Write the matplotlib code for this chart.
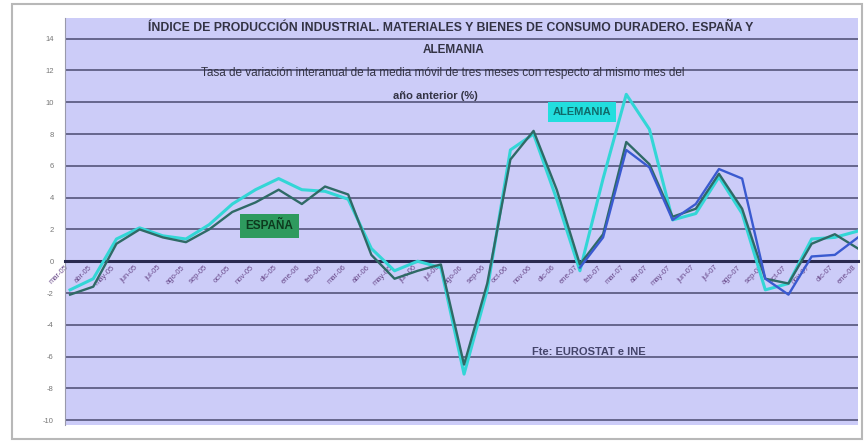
import matplotlib.pyplot as plt
from matplotlib.patches import Rectangle
import numpy as np

plt.rcParams["font.family"] = ["Liberation Sans", "DejaVu Sans"]

# categorias (meses) y valores
meses = ["ene", "feb", "mar", "abr", "may", "jun", "jul", "ago", "sep", "oct", "nov", "dic"]
periodos = [f"{meses[(i + 2) % 12]}-{(i + 2) // 12 + 5:02d}" for i in range(35)]

espana = [-2.1, -1.6, 1.1, 2.0, 1.5, 1.2, 2.0, 3.1, 3.7, 4.5, 3.6, 4.7, 4.2, 0.4, -1.1, -0.6, -0.2,
          -6.5, -1.4, 6.4, 8.2, 4.5, -0.2, 1.7, 7.5, 6.1, 2.8, 3.3, 5.5, 3.3, -1.1, -1.4, 1.1, 1.7, 0.8]
alemania = [-1.8, -1.1, 1.4, 2.1, 1.6, 1.4, 2.3, 3.6, 4.5, 5.2, 4.5, 4.4, 3.9, 0.8, -0.6, 0.0, -0.4,
            -7.1, -1.8, 7.0, 8.0, 3.9, -0.6, 5.2, 10.5, 8.3, 2.6, 3.0, 5.3, 3.0, -1.8, -1.4, 1.4, 1.5, 1.9]
serie3_inicio = 22
serie3 = [-0.4, 1.5, 7.0, 5.9, 2.6, 3.6, 5.8, 5.2, -1.1, -2.1, 0.3, 0.4, 1.5]

y_ticks = list(range(-10, 16, 2))

x = np.arange(len(periodos))
x3 = np.arange(serie3_inicio, serie3_inicio + len(serie3))

fig = plt.figure(figsize=(8.64, 4.43), dpi=100)
fig.patches.append(Rectangle((12 / 864, 4 / 443), 850 / 864, 435 / 443, transform=fig.transFigure,
                             fill=False, edgecolor="#b8b8b8", lw=1.5))
ax = fig.add_axes([65 / 864, 18 / 443, 793 / 864, 407 / 443])
ax.set_facecolor("#ccccf8")

ax.set_ylim(-10.3, 15.3)
ax.set_xlim(-0.22, 34.0)
ax.set_yticks(y_ticks)
ax.set_yticklabels([str(v) for v in y_ticks], fontsize=5.5, color="#777777")
ax.yaxis.grid(True, color="#55557a", lw=1.2)
ax.set_axisbelow(True)

for s in ["top", "right"]:
    ax.spines[s].set_visible(False)
ax.spines["left"].set_color("#9999aa")
ax.spines["bottom"].set_position(("data", 0))
ax.spines["bottom"].set_color("#2a2a50")
ax.spines["bottom"].set_linewidth(2.2)
ax.set_xticks(x)
ax.set_xticklabels(periodos, rotation=45, fontsize=5.5, color="#6a4a8a", ha="right", va="top")
ax.tick_params(axis="x", length=0, pad=2)
ax.tick_params(axis="y", length=0, pad=8)

ax.plot(x, alemania, color="#33d6d6", lw=2.2, solid_joinstyle="round", zorder=3)
ax.plot(x, espana, color="#2f6a66", lw=1.7, solid_joinstyle="round", zorder=4)
ax.plot(x3, serie3, color="#3a5ad0", lw=1.7, solid_joinstyle="round", zorder=5)

# rotulos de series
ax.text(8.6, 2.2, "ESPAÑA", fontsize=8.5, fontweight="bold", color="#0d3a1e", ha="center",
        va="center", bbox=dict(boxstyle="square,pad=0.5", fc="#2e9a5e", ec="none"), zorder=6)
ax.text(22.1, 9.4, "ALEMANIA", fontsize=8, fontweight="bold", color="#106a6a", ha="center",
        va="center", bbox=dict(boxstyle="square,pad=0.45", fc="#22dede", ec="none"), zorder=6)

# titulo dentro del area de grafico
ax.text(0.486, 0.975, "ÍNDICE DE PRODUCCIÓN INDUSTRIAL. MATERIALES Y BIENES DE CONSUMO DURADERO. ESPAÑA Y",
        transform=ax.transAxes, ha="center", va="center", fontsize=8.8, fontweight="bold", color="#333344")
ax.text(0.49, 0.921, "ALEMANIA", transform=ax.transAxes, ha="center", va="center",
        fontsize=8.5, fontweight="bold", color="#333344")
ax.text(0.476, 0.865, "Tasa de variación interanual de la media móvil de tres meses con respecto al mismo mes del",
        transform=ax.transAxes, ha="center", va="center", fontsize=8.5, color="#333344")
ax.text(0.467, 0.808, "año anterior (%)", transform=ax.transAxes, ha="center", va="center",
        fontsize=8, fontweight="bold", color="#333344")
ax.text(22.4, -5.7, "Fte: EUROSTAT e INE", ha="center", va="center",
        fontsize=8, fontweight="bold", color="#44446a")

fig.savefig("out.png", dpi=100)
